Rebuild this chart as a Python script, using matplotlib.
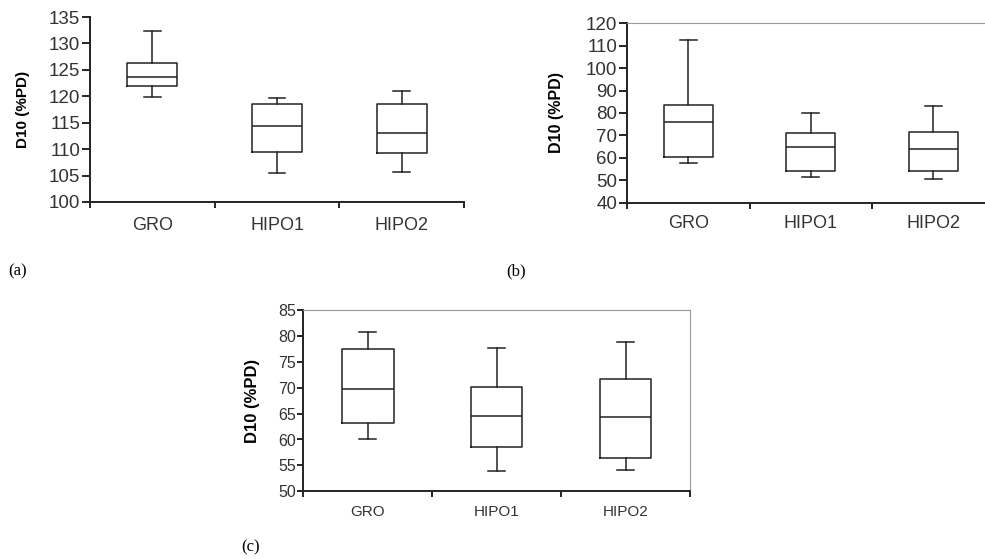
import numpy as np
import matplotlib.pyplot as plt

plt.rcParams['font.family'] = ['Liberation Sans', 'DejaVu Sans']

grupos = ['GRO', 'HIPO1', 'HIPO2']
rotulo_y = 'D10 (%PD)'

# painel (a)
a_lo = [119.9, 105.4, 105.7]
a_q1 = [122.0, 109.5, 109.2]
a_med = [123.7, 114.3, 113.1]
a_q3 = [126.3, 118.6, 118.6]
a_hi = [132.4, 119.6, 121.0]

# painel (b)
b_lo = [57.8, 51.3, 50.7]
b_q1 = [60.4, 54.3, 54.3]
b_med = [75.8, 64.7, 64.0]
b_q3 = [83.7, 71.1, 71.7]
b_hi = [112.4, 80.0, 83.1]

# painel (c)
c_lo = [60.1, 53.9, 54.1]
c_q1 = [63.2, 58.6, 56.5]
c_med = [69.7, 64.5, 64.3]
c_q3 = [77.5, 70.2, 71.7]
c_hi = [80.8, 77.7, 78.8]


def montar_stats(lo, q1, med, q3, hi):
    stats = []
    for i in range(len(grupos)):
        stats.append({'label': grupos[i], 'whislo': lo[i], 'q1': q1[i],
                      'med': med[i], 'q3': q3[i], 'whishi': hi[i],
                      'fliers': []})
    return stats


def painel(ax, stats, ylim, passo, fs_tick, fs_x, fs_lab, pad_x, tick_len,
           borda_topo, borda_dir):
    cor = '#222222'
    ax.bxp(stats, positions=[1, 2, 3], widths=0.4, capwidths=0.135,
           showfliers=False,
           boxprops=dict(color=cor, linewidth=1.1),
           whiskerprops=dict(color=cor, linewidth=1.1),
           capprops=dict(color=cor, linewidth=1.1),
           medianprops=dict(color=cor, linewidth=1.1))
    ax.set_xlim(0.5, 3.5)
    ax.set_ylim(*ylim)
    ax.set_yticks(np.arange(ylim[0], ylim[1] + 0.1, passo))
    ax.set_xticks([0.5, 1.5, 2.5, 3.5])
    ax.set_xticklabels(['', '', '', ''])
    ax.set_xticks([1, 2, 3], minor=True)
    ax.set_xticklabels(grupos, minor=True, fontsize=fs_x, color='#333333')
    ax.tick_params(axis='x', which='minor', length=0, pad=pad_x)
    ax.tick_params(axis='x', which='major', length=4, width=1.2, direction='out')
    ax.tick_params(axis='y', length=tick_len, width=1.2, pad=1,
                   labelsize=fs_tick, labelcolor='#333333')
    ax.set_ylabel(rotulo_y, fontsize=fs_lab, fontweight='bold', labelpad=6)
    for s in ['left', 'bottom']:
        ax.spines[s].set_linewidth(1.4)
        ax.spines[s].set_color('#222222')
    ax.spines['top'].set_visible(borda_topo)
    ax.spines['right'].set_visible(borda_dir)
    ax.spines['top'].set_color('#999999')
    ax.spines['right'].set_color('#999999')


fig = plt.figure(figsize=(9.85, 5.59), dpi=100)

W, H = 985.0, 559.0
ax_a = fig.add_axes([90 / W, 1 - 202 / H, 374 / W, 185 / H])
ax_b = fig.add_axes([627 / W, 1 - 202.7 / H, 367.5 / W, 179.4 / H])
ax_c = fig.add_axes([303.3 / W, 1 - 491.3 / H, 386.7 / W, 181.3 / H])

painel(ax_a, montar_stats(a_lo, a_q1, a_med, a_q3, a_hi), (100, 135), 5,
       13.5, 13, 11, 11, 6, False, False)
painel(ax_b, montar_stats(b_lo, b_q1, b_med, b_q3, b_hi), (40, 120), 10,
       13.5, 13, 11.5, 9, 6, True, True)
painel(ax_c, montar_stats(c_lo, c_q1, c_med, c_q3, c_hi), (50, 85), 5,
       11.5, 11, 12, 10, 4, True, True)

ax_a.yaxis.set_label_coords(-60 / 374, 0.5)
ax_b.yaxis.set_label_coords(-63 / 367.5, 0.5)
ax_c.yaxis.set_label_coords(-43 / 386.7, 0.5)

serif = ['Liberation Serif', 'DejaVu Serif']
fig.text(8 / W, 1 - 271 / H, '(a)', fontsize=12, family=serif, va='center')
fig.text(506 / W, 1 - 271 / H, '(b)', fontsize=12, family=serif, va='center')
fig.text(241 / W, 1 - 547 / H, '(c)', fontsize=12, family=serif, va='center')

fig.savefig('out.png', dpi=100)
